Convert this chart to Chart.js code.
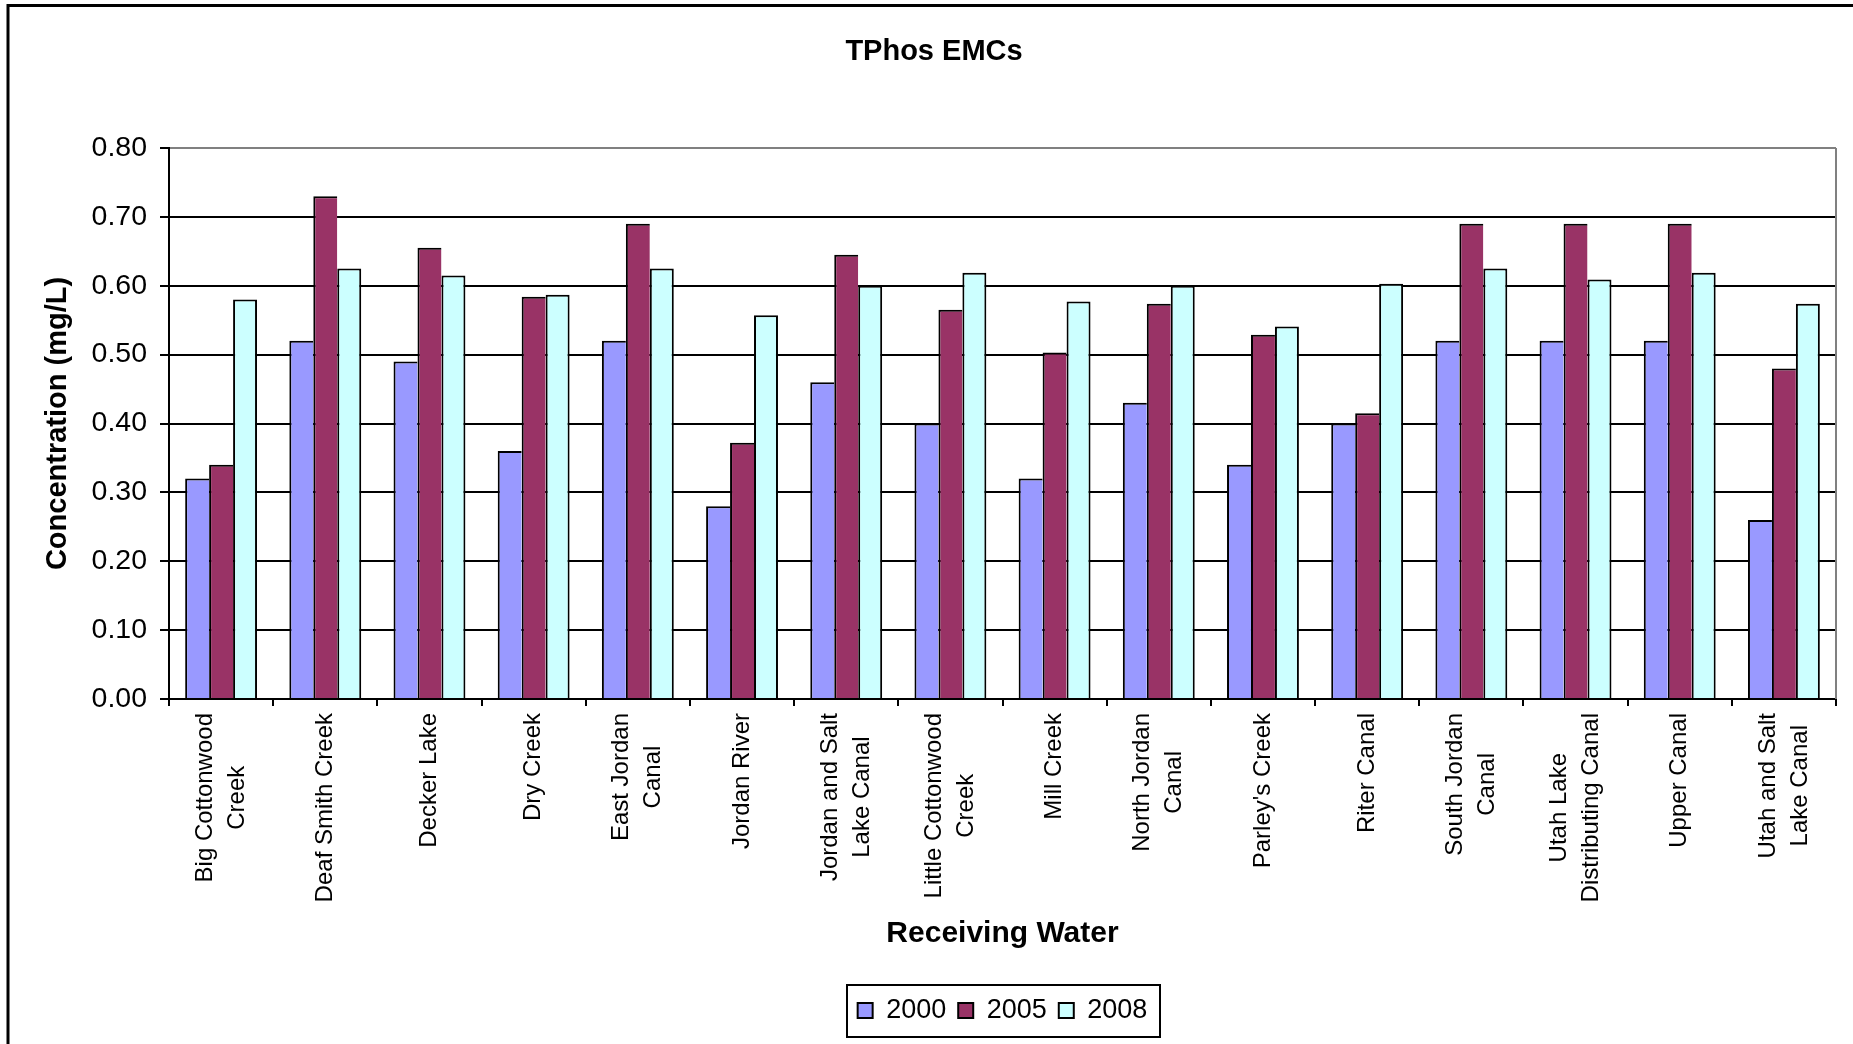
<!DOCTYPE html>
<html>
<head>
<meta charset="utf-8">
<title>TPhos EMCs</title>
<script src="https://cdn.jsdelivr.net/npm/chart.js@4/dist/chart.umd.min.js"></script>
<style>
  html, body { margin: 0; padding: 0; background: #fff; }
  canvas { display: block; }
</style>
</head>
<body>
<canvas id="chart" width="1853" height="1044"></canvas>
<script>
// Receiving waters (each entry is the wrapped label, one string per line)
const categories = [
  ["Big Cottonwood", "Creek"],
  ["Deaf Smith Creek"],
  ["Decker Lake"],
  ["Dry Creek"],
  ["East Jordan", "Canal"],
  ["Jordan River"],
  ["Jordan and Salt", "Lake Canal"],
  ["Little Cottonwood", "Creek"],
  ["Mill Creek"],
  ["North Jordan", "Canal"],
  ["Parley's Creek"],
  ["Riter Canal"],
  ["South Jordan", "Canal"],
  ["Utah Lake", "Distributing Canal"],
  ["Upper Canal"],
  ["Utah and Salt", "Lake Canal"]
];

const seriesNames = ["2000", "2005", "2008"];

// Total phosphorus event mean concentrations, mg/L
const values2000 = [0.32, 0.52, 0.49, 0.36, 0.52, 0.28, 0.46, 0.40, 0.32, 0.43, 0.34, 0.40, 0.52, 0.52, 0.52, 0.26];
const values2005 = [0.34, 0.73, 0.655, 0.584, 0.69, 0.372, 0.645, 0.565, 0.503, 0.574, 0.529, 0.415, 0.69, 0.69, 0.69, 0.48];
const values2008 = [0.58, 0.625, 0.615, 0.587, 0.625, 0.557, 0.60, 0.619, 0.577, 0.60, 0.541, 0.603, 0.625, 0.609, 0.619, 0.574];

const yTickValues = [0.00, 0.10, 0.20, 0.30, 0.40, 0.50, 0.60, 0.70, 0.80];

const FONT = '"Liberation Sans", Arial, Helvetica, sans-serif';
Chart.defaults.font.family = FONT;
Chart.defaults.color = '#000';

// White page with the chart frame (top and left edges)
const framePlugin = {
  id: 'frame',
  beforeDraw(chart) {
    const { ctx, width, height } = chart;
    ctx.save();
    ctx.fillStyle = '#fff';
    ctx.fillRect(0, 0, width, height);
    ctx.strokeStyle = '#000';
    ctx.lineWidth = 3;
    ctx.beginPath();
    ctx.moveTo(8, height + 5);
    ctx.lineTo(8, 5.5);
    ctx.lineTo(width + 5, 5.5);
    ctx.stroke();
    ctx.restore();
  }
};

// Grey plot-area edge on the right
const plotEdgePlugin = {
  id: 'plotEdge',
  beforeDatasetsDraw(chart) {
    const { ctx, chartArea } = chart;
    ctx.save();
    ctx.strokeStyle = '#808080';
    ctx.lineWidth = 2;
    ctx.beginPath();
    ctx.moveTo(chartArea.right, chartArea.top);
    ctx.lineTo(chartArea.right, chartArea.bottom);
    ctx.stroke();
    ctx.restore();
  }
};

// Vertical category labels, lines centred on each other, reading upward
const categoryLabelPlugin = {
  id: 'categoryLabels',
  afterDraw(chart) {
    const { ctx } = chart;
    const xs = chart.scales.x;
    const lineH = 32;
    const top = xs.top + 14;
    ctx.save();
    ctx.font = '24px ' + FONT;
    ctx.fillStyle = '#000';
    ctx.textAlign = 'center';
    ctx.textBaseline = 'middle';
    categories.forEach((lines, i) => {
      const cx = xs.getPixelForValue(i);
      const widest = Math.max(...lines.map(l => ctx.measureText(l).width));
      ctx.save();
      ctx.translate(cx, top);
      ctx.rotate(-Math.PI / 2);
      lines.forEach((line, j) => {
        ctx.fillText(line, -widest / 2, (j - (lines.length - 1) / 2) * lineH);
      });
      ctx.restore();
    });
    ctx.restore();
  }
};

// Box around the legend entries
const legendFramePlugin = {
  id: 'legendFrame',
  afterDraw(chart) {
    const boxes = chart.legend && chart.legend.legendHitBoxes;
    if (!boxes || !boxes.length) return;
    const first = boxes[0], last = boxes[boxes.length - 1];
    const left = first.left - 11;
    const right = last.left + last.width + 12;
    const cy = first.top + first.height / 2;
    const { ctx } = chart;
    ctx.save();
    ctx.strokeStyle = '#000';
    ctx.lineWidth = 2;
    ctx.strokeRect(Math.round(left), Math.round(cy - 26), Math.round(right - left), 52);
    ctx.restore();
  }
};

const barBorder = { top: 2, left: 2, right: 0, bottom: 0 };

new Chart(document.getElementById('chart'), {
  type: 'bar',
  data: {
    labels: categories,
    datasets: [
      { label: seriesNames[0], data: values2000, backgroundColor: '#9999FF', borderColor: '#000', borderWidth: barBorder },
      { label: seriesNames[1], data: values2005, backgroundColor: '#993366', borderColor: '#000', borderWidth: barBorder },
      { label: seriesNames[2], data: values2008, backgroundColor: '#CCFFFF', borderColor: '#000', borderWidth: { top: 2, left: 2, right: 2, bottom: 0 } }
    ]
  },
  options: {
    responsive: false,
    animation: false,
    devicePixelRatio: 1,
    layout: { padding: { top: 10, left: 32, right: 17, bottom: 10 } },
    datasets: {
      bar: { categoryPercentage: 0.69, barPercentage: 1.0, borderSkipped: 'start' }
    },
    scales: {
      x: {
        type: 'category',
        offset: true,
        grid: {
          display: true,
          offset: true,
          drawOnChartArea: false,
          drawTicks: true,
          tickLength: 7,
          color: '#000',
          lineWidth: 2
        },
        border: { display: true, color: '#000', width: 2 },
        ticks: { display: false },
        title: {
          display: true,
          text: 'Receiving Water',
          color: '#000',
          font: { size: 30, weight: 'bold' },
          padding: { top: 0, bottom: 33 }
        },
        afterFit(scale) { scale.height = 286; }
      },
      y: {
        min: 0,
        max: 0.8,
        afterBuildTicks(scale) { scale.ticks = yTickValues.map(v => ({ value: v })); },
        ticks: {
          color: '#000',
          font: { size: 28.5 },
          padding: 13,
          callback: v => Number(v).toFixed(2)
        },
        grid: {
          color: c => (c.tick && c.tick.value >= 0.8 - 1e-9) ? '#808080' : '#000',
          tickColor: '#000',
          lineWidth: 2,
          tickLength: 9,
          drawTicks: true
        },
        border: { display: true, color: '#000', width: 2 },
        title: {
          display: true,
          text: 'Concentration (mg/L)',
          color: '#000',
          font: { size: 29, weight: 'bold' },
          padding: { top: 9, bottom: 0 }
        },
        afterFit(scale) { scale.width = 137; }
      }
    },
    plugins: {
      title: {
        display: true,
        text: 'TPhos EMCs',
        color: '#000',
        font: { size: 29, weight: 'bold' },
        padding: { top: 24.6, bottom: 78.6 }
      },
      legend: {
        position: 'bottom',
        fullSize: false,
        labels: {
          boxWidth: 15,
          boxHeight: 15,
          padding: 12,
          color: '#000',
          font: { size: 27 },
          generateLabels(chart) {
            const items = Chart.defaults.plugins.legend.labels.generateLabels(chart);
            items.forEach(it => { it.lineWidth = 2; it.strokeStyle = '#000'; });
            return items;
          }
        }
      },
      tooltip: { enabled: false }
    }
  },
  plugins: [framePlugin, plotEdgePlugin, categoryLabelPlugin, legendFramePlugin]
});
</script>
</body>
</html>
